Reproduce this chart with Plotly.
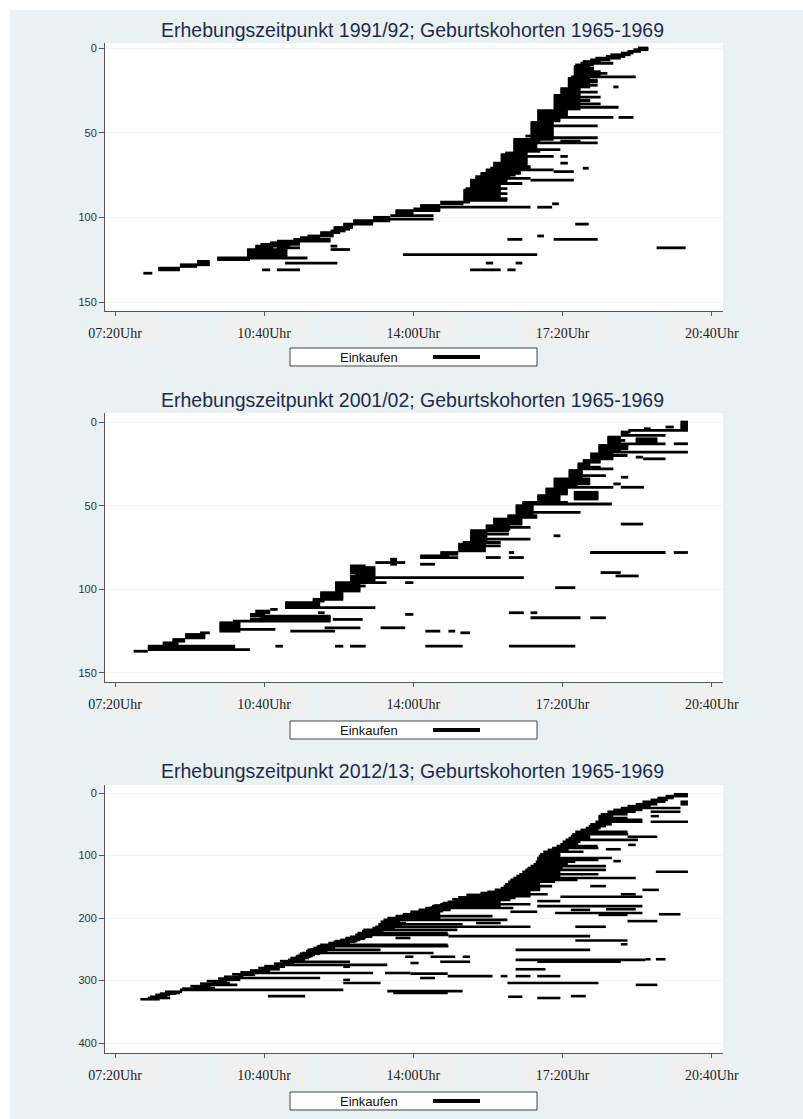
import plotly.graph_objects as go

W, H = 803, 1119

# ---------------- data ----------------
titles = [
    "Erhebungszeitpunkt 1991/92; Geburtskohorten 1965-1969",
    "Erhebungszeitpunkt 2001/02; Geburtskohorten 1965-1969",
    "Erhebungszeitpunkt 2012/13; Geburtskohorten 1965-1969",
]
legend_label = "Einkaufen"
x_tick_vals = [440, 640, 840, 1040, 1240]          # minutes after midnight
x_tick_text = ["07:20Uhr", "10:40Uhr", "14:00Uhr", "17:20Uhr", "20:40Uhr"]
y_ticks_p1 = [0, 50, 100, 150]
y_ticks_p2 = [0, 50, 100, 150]
y_ticks_p3 = [0, 100, 200, 300, 400]

# shopping episodes: (person index, start minute, end minute)
p1_segments = [
    (0, 1141, 1155), (1, 1135, 1155), (2, 1127, 1145), (3, 1118, 1135), (4, 1104, 1131),
    (5, 1098, 1124), (6, 1084, 1118), (7, 1077, 1104), (8, 1067, 1091), (9, 1064, 1108),
    (10, 1057, 1082), (11, 1055, 1077), (12, 1055, 1082), (13, 1055, 1082), (14, 1055, 1091),
    (15, 1055, 1100), (16, 1055, 1091), (17, 1051, 1138), (18, 1047, 1077), (19, 1047, 1087),
    (20, 1047, 1087), (21, 1047, 1077), (22, 1047, 1087), (23, 1047, 1077), (23, 1108, 1115),
    (24, 1037, 1064), (25, 1037, 1064), (26, 1037, 1087), (27, 1037, 1064), (28, 1028, 1064),
    (29, 1028, 1091), (30, 1028, 1064), (31, 1028, 1077), (32, 1028, 1064), (33, 1028, 1091),
    (34, 1028, 1064), (35, 1028, 1115), (36, 1028, 1064), (37, 1006, 1047), (38, 1006, 1047),
    (39, 1006, 1047), (40, 1006, 1047), (41, 1006, 1108), (41, 1115, 1135), (42, 1006, 1037),
    (43, 1006, 1037), (44, 997, 1028), (45, 997, 1028), (46, 997, 1087), (47, 997, 1028),
    (48, 997, 1028), (49, 997, 1028), (50, 997, 1028), (51, 997, 1028), (52, 990, 1028),
    (53, 997, 1087), (54, 974, 1028), (55, 974, 1010), (55, 1037, 1064), (56, 974, 1087),
    (57, 974, 1006), (58, 974, 1006), (59, 974, 1006), (60, 974, 1037), (61, 974, 1010),
    (62, 963, 993), (63, 957, 993), (64, 957, 1028), (64, 1037, 1047), (65, 957, 993),
    (66, 957, 993), (67, 957, 993), (68, 947, 993), (68, 1037, 1047), (69, 947, 993),
    (70, 947, 997), (71, 943, 997), (71, 1067, 1075), (72, 937, 1028), (73, 937, 984),
    (73, 1028, 1055), (74, 930, 984), (75, 930, 977), (76, 923, 970), (77, 923, 997),
    (78, 916, 966), (78, 997, 1055), (79, 916, 966), (80, 916, 986), (81, 916, 957),
    (82, 916, 957), (83, 910, 966), (84, 907, 957), (85, 907, 957), (86, 907, 966),
    (87, 907, 957), (88, 907, 957), (89, 907, 966), (90, 907, 966), (91, 876, 916),
    (92, 876, 907), (92, 1026, 1035), (93, 849, 876), (94, 849, 997), (94, 1006, 1026),
    (95, 840, 876), (96, 816, 876), (97, 816, 840), (98, 816, 840), (99, 809, 867),
    (100, 786, 809), (101, 786, 867), (102, 759, 809), (103, 759, 786), (104, 746, 786),
    (104, 1057, 1075), (105, 746, 759), (106, 733, 759), (107, 733, 755), (108, 729, 749),
    (109, 715, 742), (110, 715, 733), (111, 698, 733), (111, 1006, 1015), (112, 688, 715),
    (113, 679, 729), (113, 966, 986), (113, 1028, 1087), (114, 657, 729), (115, 648, 688),
    (116, 635, 688), (117, 628, 675), (117, 729, 738), (118, 628, 652), (118, 657, 688),
    (118, 1166, 1205), (119, 617, 671), (119, 729, 755), (120, 617, 671), (121, 617, 671),
    (122, 617, 671), (122, 826, 1006), (123, 617, 671), (124, 577, 698), (125, 577, 621),
    (126, 550, 567), (127, 550, 567), (127, 668, 738), (127, 937, 947), (127, 977, 986),
    (128, 527, 567), (129, 527, 550), (130, 498, 527), (131, 498, 527), (131, 637, 648),
    (131, 657, 688), (131, 916, 957), (131, 966, 977), (133, 478, 490),
]

p2_segments = [
    (0, 1198, 1208), (1, 1198, 1208), (2, 1198, 1208), (3, 1178, 1189), (3, 1198, 1208),
    (4, 1149, 1158), (4, 1198, 1208), (5, 1128, 1208), (6, 1118, 1131), (7, 1118, 1128),
    (8, 1118, 1178), (9, 1100, 1118), (10, 1100, 1118), (10, 1138, 1167), (11, 1100, 1124),
    (11, 1138, 1167), (12, 1100, 1118), (12, 1138, 1167), (13, 1100, 1178), (13, 1189, 1208),
    (14, 1088, 1128), (15, 1088, 1128), (16, 1088, 1128), (17, 1088, 1118), (18, 1088, 1208),
    (19, 1077, 1108), (20, 1077, 1127), (21, 1077, 1108), (21, 1138, 1148), (22, 1077, 1108),
    (22, 1148, 1178), (23, 1067, 1091), (24, 1067, 1091), (25, 1060, 1077), (26, 1060, 1077),
    (27, 1060, 1091), (28, 1060, 1108), (29, 1048, 1067), (30, 1048, 1067), (31, 1048, 1067),
    (32, 1048, 1098), (33, 1048, 1067), (33, 1118, 1128), (34, 1028, 1077), (35, 1028, 1077),
    (36, 1028, 1077), (37, 1028, 1077), (37, 1108, 1118), (38, 1028, 1060), (39, 1028, 1108),
    (39, 1118, 1149), (40, 1017, 1047), (41, 1017, 1047), (42, 1017, 1047), (42, 1055, 1088),
    (43, 1017, 1047), (43, 1055, 1088), (44, 1006, 1037), (44, 1055, 1088), (45, 1006, 1037),
    (45, 1055, 1088), (46, 1006, 1037), (46, 1055, 1088), (47, 1006, 1037), (48, 986, 1047),
    (49, 986, 1106), (50, 977, 1001), (51, 977, 1001), (52, 977, 1001), (53, 977, 1001),
    (54, 977, 1064), (55, 977, 1001), (56, 966, 1006), (57, 966, 1006), (58, 947, 986),
    (59, 947, 986), (60, 947, 986), (61, 947, 986), (61, 1118, 1148), (62, 937, 970),
    (63, 937, 997), (64, 937, 970), (65, 916, 968), (66, 916, 939), (67, 916, 968),
    (68, 916, 939), (68, 1028, 1037), (69, 916, 939), (70, 916, 997), (71, 916, 939),
    (72, 906, 957), (73, 900, 937), (74, 900, 957), (75, 900, 937), (76, 900, 937),
    (77, 900, 937), (78, 876, 900), (78, 968, 975), (78, 1077, 1178), (78, 1189, 1208),
    (79, 876, 900), (80, 849, 888), (81, 849, 900), (81, 937, 957), (81, 968, 988),
    (82, 809, 818), (83, 809, 818), (84, 789, 829), (85, 809, 818), (85, 849, 869),
    (86, 755, 776), (87, 755, 789), (88, 755, 789), (89, 755, 789), (90, 755, 789),
    (90, 1091, 1118), (91, 762, 789), (92, 755, 789), (92, 1111, 1142), (93, 755, 988),
    (94, 755, 789), (95, 755, 789), (96, 735, 804), (96, 829, 840), (97, 735, 769),
    (98, 735, 776), (99, 735, 769), (99, 1030, 1057), (100, 735, 769), (101, 735, 769),
    (102, 715, 746), (103, 715, 746), (104, 715, 746), (105, 715, 746), (106, 705, 746),
    (107, 705, 721), (108, 668, 715), (109, 668, 715), (110, 668, 715), (111, 668, 789),
    (112, 648, 658), (113, 628, 648), (114, 628, 648), (114, 712, 721), (114, 968, 988),
    (114, 997, 1006), (115, 621, 641), (115, 829, 840), (116, 621, 729), (117, 635, 729),
    (117, 997, 1064), (117, 1077, 1098), (118, 621, 729), (118, 732, 772), (119, 598, 729),
    (120, 580, 608), (121, 580, 608), (122, 580, 608), (123, 580, 608), (123, 721, 769),
    (123, 796, 829), (124, 580, 655), (125, 580, 608), (125, 675, 735), (125, 856, 876),
    (125, 887, 896), (126, 554, 567), (126, 903, 916), (127, 534, 561), (128, 534, 561),
    (129, 534, 561), (130, 517, 534), (131, 517, 534), (132, 504, 525), (133, 504, 525),
    (134, 484, 601), (134, 655, 665), (134, 735, 746), (134, 755, 776), (134, 856, 906),
    (134, 968, 1057), (135, 484, 601), (136, 484, 621), (137, 465, 484),
]

p3_segments = [
    (2, 1189, 1208), (5, 1178, 1208), (8, 1167, 1189), (11, 1158, 1181), (14, 1147, 1178),
    (14, 1198, 1208), (18, 1138, 1167), (18, 1198, 1208), (21, 1127, 1158), (24, 1118, 1198),
    (27, 1108, 1147), (30, 1100, 1138), (30, 1158, 1198), (34, 1091, 1127), (37, 1088, 1108),
    (37, 1158, 1169), (40, 1088, 1127), (43, 1088, 1147), (46, 1084, 1147), (46, 1158, 1208),
    (50, 1077, 1106), (53, 1075, 1098), (56, 1071, 1091), (59, 1064, 1088), (62, 1057, 1127),
    (66, 1053, 1128), (69, 1051, 1077), (70, 1127, 1167), (72, 1048, 1077), (75, 1044, 1141),
    (78, 1040, 1064), (82, 1037, 1061), (85, 1032, 1087), (83, 1128, 1138), (88, 1026, 1088),
    (91, 1020, 1048), (90, 1098, 1118), (94, 1014, 1068), (98, 1010, 1037), (101, 1008, 1037),
    (104, 1006, 1106), (107, 1006, 1088), (110, 1004, 1057), (109, 1108, 1118), (114, 1001, 1047),
    (117, 997, 1098), (120, 993, 1040), (123, 990, 1098), (126, 986, 1037), (126, 1165, 1208),
    (130, 982, 1088), (133, 978, 1037), (136, 974, 1138), (139, 970, 1060), (142, 967, 1030),
    (146, 963, 1010), (149, 961, 1026), (149, 1077, 1098), (152, 957, 1010), (155, 949, 1010),
    (155, 1147, 1169), (158, 939, 997), (160, 930, 965), (162, 930, 1020), (162, 1118, 1138),
    (163, 911, 950), (165, 916, 997), (166, 1037, 1147), (167, 900, 940), (168, 906, 977),
    (170, 892, 930), (171, 896, 970), (174, 886, 957), (173, 1006, 1037), (176, 879, 915),
    (178, 876, 997), (180, 868, 905), (181, 865, 957), (181, 1006, 1147), (183, 863, 900),
    (184, 856, 974), (187, 847, 890), (187, 1051, 1077), (186, 1098, 1138), (189, 847, 880),
    (190, 836, 876), (190, 970, 1006), (192, 836, 870), (194, 826, 876), (192, 1030, 1147),
    (194, 1169, 1198), (196, 825, 860), (197, 816, 946), (195, 1088, 1127), (199, 820, 850),
    (200, 805, 876), (202, 812, 845), (203, 800, 966), (206, 796, 822), (205, 1127, 1167),
    (208, 798, 830), (210, 793, 906), (208, 924, 957), (212, 793, 825), (214, 789, 997),
    (214, 1057, 1098), (216, 785, 815), (219, 773, 899), (221, 771, 800), (224, 765, 886),
    (226, 766, 795), (227, 762, 887), (229, 887, 1077), (230, 755, 785), (232, 749, 776),
    (232, 816, 836), (233, 749, 775), (235, 742, 769), (236, 1057, 1127), (237, 735, 765),
    (238, 733, 762), (240, 726, 755), (242, 1118, 1127), (243, 715, 886), (245, 712, 887),
    (246, 710, 735), (248, 706, 735), (250, 702, 730), (251, 698, 796), (251, 977, 1077),
    (253, 696, 725), (256, 691, 867), (257, 688, 715), (259, 686, 708), (261, 683, 705),
    (262, 682, 702), (262, 829, 840), (262, 863, 896), (262, 906, 916), (264, 675, 700),
    (267, 672, 695), (267, 977, 1151), (266, 1151, 1158), (266, 1165, 1178), (269, 661, 690),
    (270, 665, 755), (270, 876, 916), (270, 1006, 1118), (272, 836, 847), (273, 653, 680),
    (275, 655, 805), (277, 640, 665), (278, 645, 668), (278, 746, 755), (280, 632, 655),
    (282, 637, 661), (282, 977, 1017), (284, 621, 645), (285, 628, 648), (287, 608, 635),
    (288, 614, 786), (288, 802, 836), (289, 836, 886), (290, 597, 625), (291, 605, 628),
    (293, 886, 946), (293, 957, 966), (293, 977, 997), (293, 1006, 1037), (294, 586, 612),
    (296, 594, 715), (296, 849, 869), (297, 578, 605), (299, 584, 608), (299, 746, 755),
    (301, 563, 590), (304, 572, 594), (304, 746, 796), (304, 966, 1088), (305, 554, 580),
    (307, 561, 604), (307, 1138, 1167), (309, 541, 568), (312, 545, 574), (313, 530, 555),
    (315, 527, 746), (317, 805, 906), (318, 507, 530), (320, 507, 527), (320, 813, 886),
    (321, 500, 522), (323, 494, 514), (325, 645, 695), (325, 1051, 1071), (326, 967, 986),
    (326, 487, 510), (328, 484, 514), (328, 1006, 1037), (330, 474, 500),
]

# ---------------- layout geometry (pixels) ----------------
def px(x):
    return x / W

def py(y):
    return 1 - y / H

X_LEFT, X_RIGHT = 105, 723
panels = [
    dict(segs=p1_segments, yt=y_ticks_p1, top=43, bottom=311, yr=[155.3, -2.95], lw=2.8,
         title_y=30, legend_y=357),
    dict(segs=p2_segments, yt=y_ticks_p2, top=413, bottom=682, yr=[155.4, -5.4], lw=2.8,
         title_y=400, legend_y=730),
    dict(segs=p3_segments, yt=y_ticks_p3, top=785, bottom=1053, yr=[416, -12.8], lw=2.6,
         title_y=771, legend_y=1101),
]
X_RANGE = [426.6, 1255]

BG = "#e9f1f3"
fig = go.Figure()
shapes = []
annotations = []

# white strips at the image border
shapes.append(dict(type="rect", xref="paper", yref="paper", x0=0, x1=px(10), y0=0, y1=1,
                   fillcolor="white", line=dict(width=0), layer="below"))
shapes.append(dict(type="rect", xref="paper", yref="paper", x0=0, x1=1, y0=py(10), y1=1,
                   fillcolor="white", line=dict(width=0), layer="below"))

for i, p in enumerate(panels):
    k = "" if i == 0 else str(i + 1)
    xs, ys = [], []
    for r, s, e in p["segs"]:
        xs += [s, e, None]
        ys += [r, r, None]
    fig.add_trace(go.Scatter(x=xs, y=ys, mode="lines", name=legend_label,
                             line=dict(color="black", width=p["lw"]),
                             xaxis="x" + k, yaxis="y" + k, showlegend=False,
                             hoverinfo="skip"))
    fig.update_layout(**{
        "xaxis" + k: dict(domain=[px(X_LEFT), px(X_RIGHT)], range=X_RANGE, anchor="y" + k,
                          tickvals=x_tick_vals, ticktext=x_tick_text, ticks="outside",
                          ticklen=4, tickcolor="#555", showline=True, linecolor="#555",
                          linewidth=1, showgrid=False, zeroline=False, automargin=False,
                          ticklabelstandoff=5,
                          tickfont=dict(family="Liberation Serif", size=14, color="#222")),
        "yaxis" + k: dict(domain=[py(p["bottom"]), py(p["top"])], range=p["yr"],
                          anchor="x" + k, tickvals=p["yt"], ticks="outside", ticklen=5,
                          tickcolor="#555", showline=True, linecolor="#555", linewidth=1,
                          showgrid=True, gridcolor="#f2f6f7", gridwidth=1, zeroline=False,
                          automargin=False,
                          tickfont=dict(family="Liberation Sans", size=11, color="#333")),
    })
    # light boxes behind the time labels
    for tv in x_tick_vals:
        shapes.append(dict(type="rect", xref="x" + k, yref="paper",
                           x0=tv - 61, x1=tv + 61,
                           y0=py(p["bottom"] + 32), y1=py(p["bottom"] + 5),
                           fillcolor="#f0f0f0", line=dict(width=0), layer="below"))
    # title
    annotations.append(dict(text=titles[i], xref="paper", yref="paper", x=px(412),
                            y=py(p["title_y"]), showarrow=False, xanchor="center",
                            yanchor="middle",
                            font=dict(family="Liberation Sans", size=19.5, color="#1f2b4d")))
    # legend box
    ly = p["legend_y"]
    shapes.append(dict(type="rect", xref="paper", yref="paper", x0=px(290), x1=px(537),
                       y0=py(ly + 9), y1=py(ly - 9), fillcolor="white",
                       line=dict(color="#444", width=1)))
    shapes.append(dict(type="line", xref="paper", yref="paper", x0=px(433), x1=px(480),
                       y0=py(ly), y1=py(ly), line=dict(color="black", width=4)))
    annotations.append(dict(text=legend_label, xref="paper", yref="paper", x=px(369),
                            y=py(ly), showarrow=False, xanchor="center", yanchor="middle",
                            font=dict(family="Liberation Sans", size=13, color="#111")))

fig.update_layout(width=W, height=H, autosize=False,
                  margin=dict(l=0, r=0, t=0, b=0, pad=0),
                  paper_bgcolor=BG, plot_bgcolor="white",
                  shapes=shapes, annotations=annotations, showlegend=False)

fig.write_html("out.html", config={"displayModeBar": False},
               post_script="document.body.style.margin='0';"
                           "document.body.style.overflow='hidden';")
